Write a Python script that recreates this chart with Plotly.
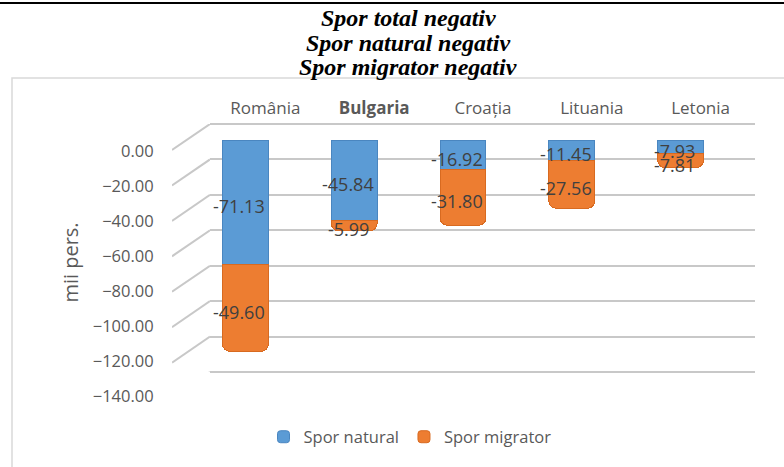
import plotly.graph_objects as go

W, H = 784, 467

countries = ["România", "Bulgaria", "Croația", "Lituania", "Letonia"]
country_ticktext = ["România", "<b>Bulgaria</b>", "Croația", "Lituania", "Letonia"]
spor_natural = [-71.13, -45.84, -16.92, -11.45, -7.93]
spor_migrator = [-49.60, -5.99, -31.80, -27.56, -7.81]
y_ticks = [0, -20, -40, -60, -80, -100, -120, -140]
title_lines = ["Spor total negativ", "Spor natural negativ", "Spor migrator negativ"]

BLUE = "#5B9BD5"
ORANGE = "#ED7D31"
TXT = "#595959"
FONT = "Open Sans"


def fx(px):
    return px / W


def fy(px):
    return 1 - px / H


fig = go.Figure()

# back-wall grid subplot (xy)
fig.add_trace(go.Scatter(x=[None], y=[None], xaxis="x", yaxis="y",
                         showlegend=False, hoverinfo="skip"))

# diagonal floor lines (x2y2), computed from tick values
depth = 14.7
dx, dy = [], []
for v in y_ticks:
    dx += [0, 1, None]
    dy += [v - depth, v, None]
fig.add_trace(go.Scatter(x=dx, y=dy, mode="lines", xaxis="x2", yaxis="y2",
                         line=dict(color="#C8C8C8", width=2),
                         showlegend=False, hoverinfo="skip"))

# bars (x3y3)
fig.add_trace(go.Bar(x=countries, y=spor_natural, name="Spor natural",
                     xaxis="x3", yaxis="y3",
                     marker=dict(color=BLUE, line=dict(color="#4A86C0", width=1))))
fig.add_trace(go.Bar(x=countries, y=spor_migrator, name="Spor migrator",
                     xaxis="x3", yaxis="y3",
                     marker=dict(color=ORANGE, line=dict(color="#D86A20", width=1))))

# value labels
annotations = []
for c, n, m in zip(countries, spor_natural, spor_migrator):
    for val, mid in ((n, n / 2), (m, n + m / 2)):
        annotations.append(dict(x=c, y=mid, xref="x3", yref="y3",
                                text=f"{val:.2f}", showarrow=False,
                                xshift=-6, yshift=-4,
                                font=dict(family=FONT, size=18, color="#404040")))

for i, line in enumerate(title_lines):
    annotations.append(dict(
        x=fx(408), y=fy(18 + 24.5 * i), xref="paper", yref="paper",
        xanchor="center", yanchor="middle",
        text=f"<b><i>{line}</i></b>", showarrow=False,
        font=dict(family="Liberation Serif", size=24, color="black")))

shapes = [
    dict(type="line", xref="paper", yref="paper", x0=0, x1=1, y0=fy(3), y1=fy(3),
         line=dict(color="black", width=2)),
    dict(type="rect", xref="paper", yref="paper", x0=fx(12), x1=1.02, y0=-0.02, y1=fy(78),
         line=dict(color="#D9D9D9", width=1.5)),
]

fig.update_layout(
    width=W, height=H, autosize=False,
    margin=dict(l=0, r=0, t=0, b=0, pad=0, autoexpand=False),
    paper_bgcolor="white", plot_bgcolor="rgba(0,0,0,0)",
    barmode="stack", bargap=0.58, barcornerradius=7,
    font=dict(family=FONT, color=TXT),
    showlegend=True,
    legend=dict(orientation="h", x=fx(410), xanchor="center", y=fy(437), yanchor="middle",
                font=dict(family=FONT, size=16.5, color=TXT), traceorder="normal"),
    annotations=annotations,
    shapes=shapes,
    # grid (back wall); range padded by 1 unit so the end gridlines are drawn
    xaxis=dict(domain=[fx(210), fx(755)], range=[0, 1], anchor="y", automargin=False,
               showgrid=False, zeroline=False, showticklabels=False, showline=False),
    yaxis=dict(domain=[fy(373.8), fy(122.2)], range=[-141, 1], anchor="x", automargin=False,
               tickvals=y_ticks, showgrid=True, gridcolor="#C8C8C8", gridwidth=2,
               zeroline=False, showticklabels=False, showline=False),
    # diagonals
    xaxis2=dict(domain=[fx(172), fx(210)], range=[0, 1], anchor="y2", automargin=False,
                showgrid=False, zeroline=False, showticklabels=False, showline=False),
    yaxis2=dict(domain=[fy(372), fy(124)], range=[-140, 0], anchor="x2", automargin=False,
                showgrid=False, zeroline=False, showticklabels=False, showline=False),
    # bars
    xaxis3=dict(domain=[fx(191), fx(735)], anchor="y3", side="top", automargin=False,
                tickvals=countries, ticktext=country_ticktext,
                ticks="outside", ticklen=18, tickcolor="rgba(0,0,0,0)",
                ticklabelshift=20, tickfont=dict(family=FONT, size=17, color=TXT),
                showgrid=False, zeroline=False, showline=False),
    yaxis3=dict(domain=[fy(385), fy(140)], range=[-140, 0], anchor="x3", automargin=False,
                tickvals=y_ticks, tickformat=".2f",
                ticks="outside", ticklen=33, tickcolor="rgba(0,0,0,0)",
                ticklabelshift=11, tickfont=dict(family=FONT, size=16.5, color=TXT),
                showgrid=False, zeroline=False, showline=False,
                title=dict(text="mii pers.", font=dict(family=FONT, size=20, color=TXT),
                           standoff=8)),
)

fig.write_html("out.html",
               config={"displayModeBar": False},
               post_script="document.body.style.margin='0';document.body.style.overflow='hidden';")
